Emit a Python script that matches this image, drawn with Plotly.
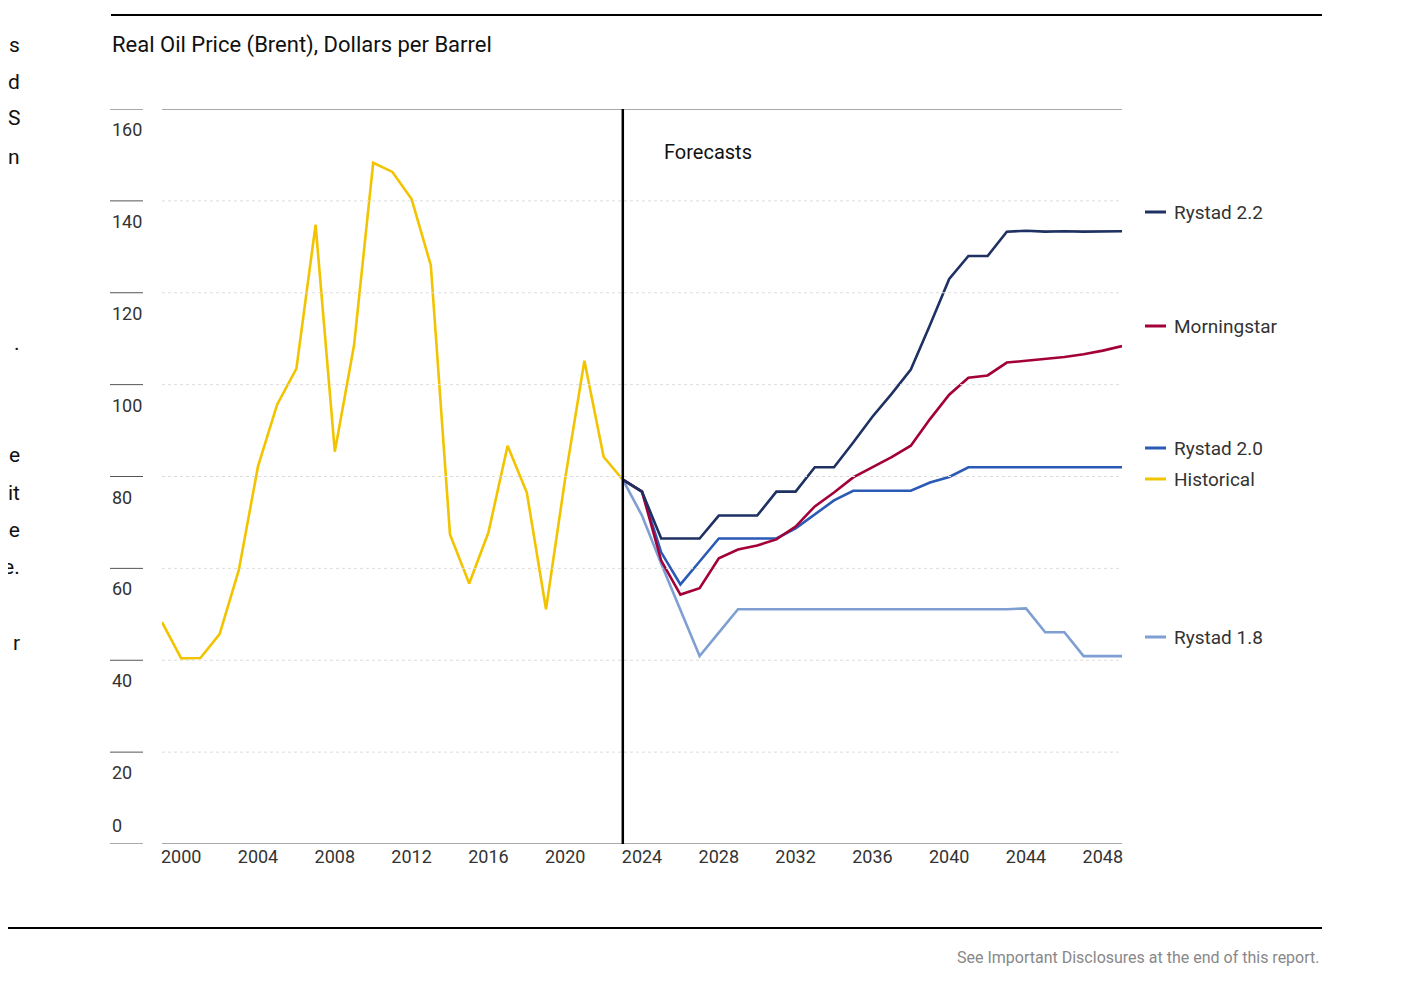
import plotly.graph_objects as go

hist_years = list(range(1999, 2024))
hist_vals = [48.3, 40.4, 40.5, 45.7, 59.6, 82.2, 95.7, 103.5, 134.8, 85.4, 108.5, 148.3, 146.3,
             140.4, 126.0, 67.4, 56.7, 67.8, 86.7, 76.5, 51.1, 79.6, 105.2, 84.3, 79.3]
fc_years = list(range(2023, 2050))
rystad22 = [79.3, 76.7, 66.5, 66.5, 66.5, 71.5, 71.5, 71.5, 76.7, 76.7, 82.0, 82.0, 87.4, 93.0,
            98.0, 103.3, 113.0, 123.0, 128.0, 128.0, 133.3, 133.5, 133.3, 133.4, 133.3, 133.3, 133.4]
morningstar = [79.3, 76.7, 61.7, 54.3, 55.7, 62.2, 64.1, 65.0, 66.3, 69.1, 73.5, 76.5, 79.8, 82.0,
               84.2, 86.7, 92.5, 97.8, 101.5, 102.0, 104.8, 105.2, 105.6, 106.0, 106.6, 107.4, 108.4]
rystad20 = [79.3, 76.7, 63.5, 56.5, 61.5, 66.5, 66.5, 66.5, 66.5, 68.7, 71.8, 74.8, 76.9, 76.9,
            76.9, 76.9, 78.7, 79.9, 82.0, 82.0, 82.0, 82.0, 82.0, 82.0, 82.0, 82.0, 82.0]
rystad18 = [79.3, 71.5, 61.0, 51.0, 40.9, 46.0, 51.1, 51.1, 51.1, 51.1, 51.1, 51.1, 51.1, 51.2,
            51.2, 51.1, 51.2, 51.1, 51.1, 51.1, 51.1, 51.3, 46.1, 46.1, 40.9, 40.9, 40.9]
y_ticks = [0, 20, 40, 60, 80, 100, 120, 140, 160]
x_ticks = list(range(2000, 2049, 4))

C_HIST, C_22, C_MS, C_20, C_18 = "#F2C400", "#1E3162", "#A3003A", "#2A5AB5", "#7F9FD3"
FONT = "Roboto, Liberation Sans Narrow, sans-serif"

fig = go.Figure()
for name, xs, ys, c in [("Rystad 1.8", fc_years, rystad18, C_18), ("Rystad 2.0", fc_years, rystad20, C_20),
                        ("Morningstar", fc_years, morningstar, C_MS), ("Rystad 2.2", fc_years, rystad22, C_22),
                        ("Historical", hist_years, hist_vals, C_HIST)]:
    fig.add_trace(go.Scatter(x=xs, y=ys, mode="lines", name=name, line=dict(color=c, width=2.6)))

OFF = 8
W, H = 1401 - OFF, 996 - OFF
L, R, T, B = 162 - OFF, 1122 - OFF, 109 - OFF, 844 - OFF
def px(x): return (x - OFF - L) / (R - L)
def py(y): return (B - (y - OFF)) / (B - T)

shapes = []
ann = []
for v in y_ticks:
    if v not in (0, 160):
        shapes.append(dict(type="line", xref="x", yref="y", x0=1999, x1=2049, y0=v, y1=v,
                           line=dict(color="#DDDDDD", width=1, dash="dot")))
    shapes.append(dict(type="line", xref="paper", yref="y", x0=px(110), x1=px(143), y0=v, y1=v,
                       line=dict(color="#555555", width=1)))
    ann.append(dict(xref="paper", yref="y", x=px(110), y=v, text=str(v), showarrow=False,
                    xanchor="left", yanchor="top" if v else "bottom", yshift=-8 if v else 6,
                    font=dict(size=18, color="#333333", family=FONT)))
shapes.append(dict(type="line", xref="x", yref="y", x0=1999, x1=2049, y0=160, y1=160,
                   line=dict(color="#555555", width=1)))
shapes.append(dict(type="line", xref="x", yref="y", x0=1999, x1=2049, y0=0, y1=0,
                   line=dict(color="#555555", width=1)))
shapes.append(dict(type="line", xref="x", yref="y", x0=2023, x1=2023, y0=0, y1=160,
                   line=dict(color="#000000", width=2.5)))
shapes.append(dict(type="line", xref="paper", yref="paper", x0=px(111), x1=px(1322), y0=py(15), y1=py(15),
                   line=dict(color="#000000", width=2)))
shapes.append(dict(type="line", xref="paper", yref="paper", x0=px(8), x1=px(1322), y0=py(928), y1=py(928),
                   line=dict(color="#000000", width=2)))

legend = [("Rystad 2.2", C_22, 212), ("Morningstar", C_MS, 326), ("Rystad 2.0", C_20, 448),
          ("Historical", C_HIST, 479), ("Rystad 1.8", C_18, 637)]
for name, c, yy in legend:
    shapes.append(dict(type="line", xref="paper", yref="paper", x0=px(1145), x1=px(1166), y0=py(yy), y1=py(yy),
                       line=dict(color=c, width=3)))
    ann.append(dict(xref="paper", yref="paper", x=px(1172), y=py(yy), text=name, showarrow=False,
                    xanchor="left", yanchor="middle", font=dict(size=19, color="#333333", family=FONT)))

ann.append(dict(xref="paper", yref="paper", x=px(110), y=py(45), text="Real Oil Price (Brent), Dollars per Barrel",
                showarrow=False, xanchor="left", yanchor="middle", font=dict(size=22, color="#111111", family=FONT)))
ann.append(dict(xref="paper", yref="paper", x=px(662), y=py(152), text="Forecasts", showarrow=False,
                xanchor="left", yanchor="middle", font=dict(size=20, color="#111111", family=FONT)))
ann.append(dict(xref="paper", yref="paper", x=px(1322), y=py(957), text="See Important Disclosures at the end of this report.",
                showarrow=False, xanchor="right", yanchor="middle", font=dict(size=16, color="#888888", family=FONT)))
for t, yy in [("s", 45), ("d", 82), ("S", 118), ("n", 157), (".", 343), ("e", 455), ("it", 493), ("se", 530), ("e.", 567), ("r", 643)]:
    ann.append(dict(xref="paper", yref="paper", x=px(22), y=py(yy), text=t, showarrow=False,
                    xanchor="right", yanchor="middle", font=dict(size=21, color="#111111", family=FONT)))

fig.update_layout(
    width=W, height=H, margin=dict(l=L, r=W - R, t=T, b=H - B),
    paper_bgcolor="white", plot_bgcolor="white", showlegend=False,
    shapes=shapes, annotations=ann,
    xaxis=dict(range=[1999, 2049], tickvals=x_ticks, showgrid=False, zeroline=False, showline=False,
               ticks="", tickfont=dict(size=18, color="#333333", family=FONT)),
    yaxis=dict(range=[0, 160], showticklabels=False, showgrid=False, zeroline=False, showline=False),
)
fig.write_html("out.html")
